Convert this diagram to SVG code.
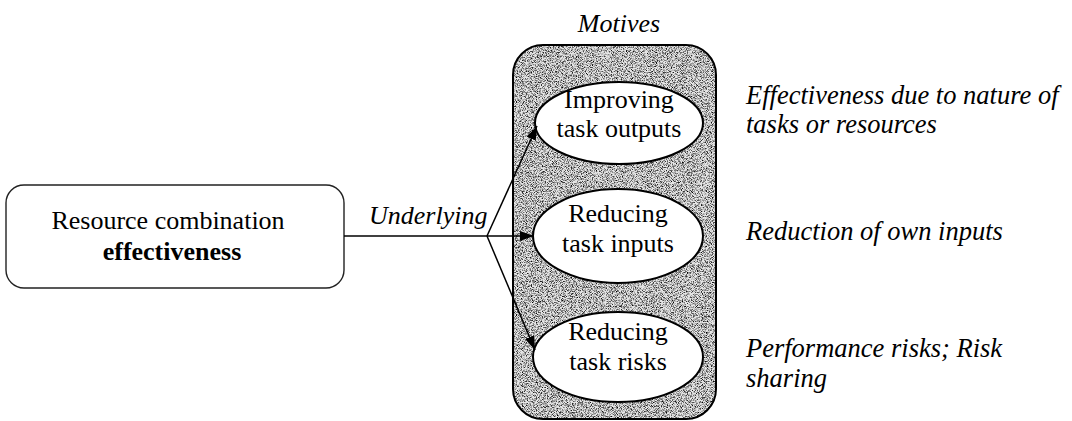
<svg xmlns="http://www.w3.org/2000/svg" width="1072" height="421" viewBox="0 0 1072 421">
  <style>
    .serif { font-family: "Liberation Serif", "Times New Roman", serif; fill: #000; }
    .node { font-size: 26px; text-anchor: middle; }
    .note { font-size: 26.5px; font-style: italic; }
    .label { font-size: 26px; font-style: italic; }
    .ell { fill: #fff; stroke: #000; stroke-width: 2; }
    .link { fill: none; stroke: #000; stroke-width: 1.5; }
  </style>
  <defs>
    <marker id="head" viewBox="0 0 14 10" refX="14" refY="5" markerWidth="14" markerHeight="10" markerUnits="userSpaceOnUse" orient="auto">
      <path d="M0,0 L14,5 L0,10 Z" fill="#000"/>
    </marker>
    <!-- speckled halftone for the motives panel -->
    <filter id="grain" x="0" y="0" width="100%" height="100%" color-interpolation-filters="sRGB">
      <feTurbulence type="fractalNoise" baseFrequency="1.2" numOctaves="1" seed="7" result="noise"/>
      <feColorMatrix in="noise" type="matrix" values="0 0 0 0 0  0 0 0 0 0  0 0 0 0 0  3 0 0 0 -1.3" result="dots"/>
      <feComposite in="dots" in2="SourceGraphic" operator="in"/>
    </filter>
  </defs>
  <rect width="1072" height="421" fill="#fff"/>

  <!-- source node -->
  <g id="resource-effectiveness">
    <rect x="6" y="185" width="338" height="103" rx="18" fill="#fff" stroke="#222" stroke-width="1.4"/>
    <text class="serif node" x="168" y="229" font-size="28">Resource combination</text>
    <text class="serif node" x="172" y="260" font-size="27" font-weight="bold">effectiveness</text>
  </g>

  <!-- motives panel -->
  <g id="motives">
    <text class="serif label" x="619" y="32" text-anchor="middle" font-size="25">Motives</text>
    <rect x="513" y="45" width="203" height="374" rx="30" fill="#e6e6e6"/>
    <rect x="513" y="45" width="203" height="374" rx="30" fill="#000" filter="url(#grain)"/>
    <rect x="513" y="45" width="203" height="374" rx="30" fill="none" stroke="#000" stroke-width="2"/>
  </g>

  <g id="improving-outputs">
    <ellipse class="ell" cx="619" cy="123" rx="84" ry="41"/>
    <text class="serif node" x="619" y="108">Improving</text>
    <text class="serif node" x="619" y="137">task outputs</text>
  </g>

  <g id="reducing-inputs">
    <ellipse class="ell" cx="618" cy="236" rx="85" ry="47"/>
    <text class="serif node" x="618" y="222">Reducing</text>
    <text class="serif node" x="618" y="252">task inputs</text>
  </g>

  <g id="reducing-risks">
    <ellipse class="ell" cx="618" cy="357" rx="85" ry="45"/>
    <text class="serif node" x="618" y="340">Reducing</text>
    <text class="serif node" x="618" y="370">task risks</text>
  </g>

  <!-- connectors -->
  <g id="connectors">
    <path class="link" d="M344,236 L487,236"/>
    <path class="link" d="M487,236 L537,126" marker-end="url(#head)"/>
    <path class="link" d="M487,236 L534,236" marker-end="url(#head)"/>
    <path class="link" d="M487,236 L535,350" marker-end="url(#head)"/>
    <text class="serif label" x="369" y="224">Underlying</text>
  </g>

  <!-- side notes -->
  <g id="notes">
    <text class="serif note" x="746" y="104">Effectiveness due to nature of</text>
    <text class="serif note" x="746" y="133">tasks or resources</text>
    <text class="serif note" x="746" y="240">Reduction of own inputs</text>
    <text class="serif note" x="746" y="357">Performance risks; Risk</text>
    <text class="serif note" x="746" y="387">sharing</text>
  </g>
</svg>
